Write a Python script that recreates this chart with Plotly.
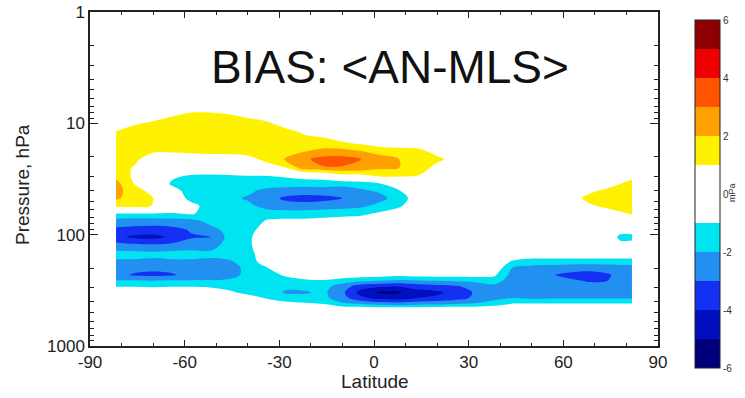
import numpy as np
import plotly.graph_objects as go

# ---------------- data ----------------
latitude = [-82, -76, -70, -64, -58, -52, -46, -40, -34, -28, -22, -16, -10, -4,
            2, 8, 14, 20, 26, 32, 38, 44, 50, 56, 62, 68, 74, 78, 82]
pressure_hpa = [1, 5, 8, 10, 12, 15, 18, 21, 25, 30, 35, 40, 47, 55, 65, 75, 90,
                105, 125, 150, 175, 200, 230, 260, 290, 330, 370, 420, 470, 600]

# bias (mPa) profiles, one per latitude, ordered like pressure_hpa
prof_m82 = [0, 0, 0, 0.2, 1.05, 1.5, 1.5, 1.5, 1.6, 1.9, 2.4, 2.5, 2.2, 1.3, -1.1, -2.4, -3.2, -3.7, -2.6, -1.6, -2.2, -2.6, -2.7, -1.9, -1.1, 0, 0, 0, 0, 0]
prof_m76 = [0, 0, 0, 0.85, 1.5, 1.5, 1.4, 1.3, 0.9, 0.8, 1.0, 1.3, 1.5, 1.4, -1.1, -2.5, -3.3, -4.2, -2.7, -1.6, -2.2, -2.7, -3.1, -1.9, -1.1, 0, 0, 0, 0, 0]
prof_m70 = [0, 0, 0.2, 1.2, 1.5, 1.5, 1.1, 0.3, 0.1, 0.1, 0.2, 0.7, 1.0, 0.95, -1.1, -2.5, -3.4, -4.3, -2.8, -1.7, -2.3, -2.8, -3.2, -2.0, -1.2, 0, 0, 0, 0, 0]
prof_m64 = [0, 0, 0.7, 1.5, 1.5, 1.5, 1.1, 0.2, 0, -0.8, -1.2, -0.5, 0, 0, -1.1, -2.4, -3.3, -3.8, -2.7, -1.6, -2.2, -2.7, -3.1, -1.9, -1.1, 0, 0, 0, 0, 0]
prof_m58 = [0, 0, 1.0, 1.5, 1.5, 1.5, 1.2, 0.2, 0, -1.2, -1.6, -1.6, -1.4, -0.6, -0.9, -2.3, -2.9, -3.1, -2.5, -1.6, -2.2, -2.6, -2.7, -1.9, -1.1, -0.1, 0, 0, 0, 0]
prof_m52 = [0, 0, 1.0, 1.5, 1.5, 1.5, 1.3, 0.3, 0, -1.3, -1.6, -1.6, -1.6, -1.5, -1.4, -1.7, -2.3, -3.05, -2.3, -1.8, -2.2, -2.6, -2.6, -1.9, -1.2, -0.2, 0, 0, 0, 0]
prof_m46 = [0, 0, 0.9, 1.5, 1.5, 1.5, 1.3, 0.4, 0, -1.2, -1.6, -1.7, -1.8, -1.7, -1.6, -1.6, -1.7, -1.7, -1.7, -1.7, -2.1, -2.5, -2.4, -1.8, -1.4, -0.8, 0, 0, 0, 0]
prof_m40 = [0, 0, 0.6, 1.4, 1.5, 1.5, 1.4, 0.6, 0.1, -1.1, -1.6, -1.8, -2.1, -1.8, -1.7, -1.8, -1.8, -1.3, -1.3, -1.6, -1.7, -1.7, -1.7, -1.7, -1.6, -1.3, -0.5, 0, 0, 0]
prof_m34 = [0, 0, 0.2, 1.2, 1.5, 1.5, 1.5, 1.3, 0.5, -1.1, -1.6, -2.2, -2.6, -2.3, -1.6, -0.9, 0, 0, 0, 0, -0.3, -1.1, -1.6, -1.7, -1.7, -1.5, -1.1, -0.3, 0, 0]
prof_m28 = [0, 0, 0, 0.5, 1.4, 1.5, 1.6, 2.1, 1.0, -0.9, -1.7, -2.3, -3.2, -2.6, -1.5, -0.8, 0, 0, 0, 0, 0, -0.1, -0.8, -1.6, -1.8, -2.1, -1.6, -0.6, 0, 0]
prof_m22 = [0, 0, 0, 0.3, 0.85, 1.5, 2.0, 2.8, 2.6, -0.6, -1.7, -2.4, -3.4, -2.6, -1.5, -0.8, 0, 0, 0, 0, 0, 0, -0.5, -1.2, -1.7, -2.1, -1.7, -0.8, 0, 0]
prof_m16 = [0, 0, 0, 0, 0.5, 1.5, 2.3, 3.4, 2.9, -0.5, -1.6, -2.4, -3.3, -2.5, -1.4, -0.7, 0, 0, 0, 0, 0, 0, -0.4, -1.1, -1.6, -1.8, -1.7, -1.0, 0, 0]
prof_m10 = [0, 0, 0, 0, 0.1, 1.1, 2.4, 3.4, 2.9, 0.4, -1.8, -2.3, -3.0, -2.4, -1.3, -0.6, 0, 0, 0, 0, 0, 0, -0.4, -1.5, -2.5, -2.8, -2.6, -1.8, 0, 0]
prof_m04 = [0, 0, 0, 0, 0, 0.8, 2.1, 3.0, 2.7, 0.5, -1.6, -2.1, -2.7, -2.2, -1.2, -0.5, 0, 0, 0, 0, 0, 0, -0.5, -1.8, -3.5, -4.4, -3.8, -2.0, 0, 0]
prof_p02 = [0, 0, 0, 0, 0, 0.5, 1.6, 2.5, 2.2, 1.0, -1.1, -1.8, -2.3, -1.7, -0.8, -0.2, 0, 0, 0, 0, 0, 0, -0.6, -2.0, -3.8, -5.2, -4.4, -2.3, 0, 0]
prof_p08 = [0, 0, 0, 0, 0, 0.4, 1.5, 2.0, 2.0, 1.0, 0, -1.0, -1.5, -1.2, -0.3, 0, 0, 0, 0, 0, 0, 0, -0.7, -2.2, -3.9, -5.1, -4.5, -2.5, 0, 0]
prof_p14 = [0, 0, 0, 0, 0, 0.3, 1.4, 1.8, 1.7, 0.9, 0, 0, -0.4, 0, 0, 0, 0, 0, 0, 0, 0, 0, -0.6, -2.1, -3.5, -4.4, -4.0, -2.3, 0, 0]
prof_p20 = [0, 0, 0, 0, 0, 0, 0.6, 1.3, 0.6, 0.2, 0, 0, 0, 0, 0, 0, 0, 0, 0, 0, 0, 0, -0.6, -2.0, -3.3, -4.2, -3.8, -2.2, 0, 0]
prof_p26 = [0, 0, 0, 0, 0, 0, 0.2, 0.5, 0.3, 0, 0, 0, 0, 0, 0, 0, 0, 0, 0, 0, 0, 0, -0.6, -1.9, -3.1, -3.6, -3.4, -2.0, 0, 0]
prof_p32 = [0, 0, 0, 0, 0, 0, 0, 0, 0, 0, 0, 0, 0, 0, 0, 0, 0, 0, 0, 0, 0, 0, -0.6, -1.8, -2.6, -2.9, -2.8, -1.9, 0, 0]
prof_p38 = [0, 0, 0, 0, 0, 0, 0, 0, 0, 0, 0, 0, 0, 0, 0, 0, 0, 0, 0, 0, 0, -0.2, -0.8, -1.6, -2.2, -2.5, -2.3, -1.5, 0, 0]
prof_p44 = [0, 0, 0, 0, 0, 0, 0, 0, 0, 0, 0, 0, 0, 0, 0, 0, 0, 0, 0, 0, -1.2, -2.1, -2.4, -2.5, -2.5, -2.4, -2.0, -0.9, 0, 0]
prof_p50 = [0, 0, 0, 0, 0, 0, 0, 0, 0, 0, 0, 0, 0, 0, 0, 0, 0, 0, 0, -0.2, -1.6, -2.3, -2.6, -2.7, -2.7, -2.6, -2.2, -0.9, 0, 0]
prof_p56 = [0, 0, 0, 0, 0, 0, 0, 0, 0, 0, 0, 0, 0, 0, 0, 0, 0, 0, 0, -0.2, -1.6, -2.4, -2.9, -2.7, -2.6, -2.5, -2.1, -0.9, 0, 0]
prof_p62 = [0, 0, 0, 0, 0, 0, 0, 0, 0, 0, 0, 0, 0.4, 0, 0, 0, 0, 0, 0, -0.2, -1.6, -2.5, -3.3, -2.8, -2.6, -2.5, -2.1, -0.9, 0, 0]
prof_p68 = [0, 0, 0, 0, 0, 0, 0, 0, 0, 0, 0, 0.7, 1.3, 0.8, 0, 0, 0, 0, 0, -0.2, -1.6, -2.6, -3.5, -3.1, -2.6, -2.5, -2.1, -0.9, 0, 0]
prof_p74 = [0, 0, 0, 0, 0, 0, 0, 0, 0, 0, 0.6, 1.2, 1.6, 1.3, 0.4, 0, 0, 0, 0, -0.2, -1.6, -2.5, -3.15, -3.0, -2.6, -2.5, -2.1, -0.9, 0, 0]
prof_p78 = [0, 0, 0, 0, 0, 0, 0, 0, 0, 0.3, 1.0, 1.5, 1.6, 1.5, 0.8, 0, -0.5, -1.3, -0.6, -0.2, -1.6, -2.4, -2.6, -2.6, -2.6, -2.5, -2.1, -0.9, 0, 0]
prof_p82 = [0, 0, 0, 0, 0, 0, 0, 0, 0, 0.7, 1.5, 1.6, 1.6, 1.5, 1.1, 0.2, -0.5, -1.3, -0.5, -0.2, -1.6, -2.4, -2.6, -2.6, -2.6, -2.5, -2.1, -0.9, 0, 0]

profiles = [prof_m82, prof_m76, prof_m70, prof_m64, prof_m58, prof_m52, prof_m46,
            prof_m40, prof_m34, prof_m28, prof_m22, prof_m16, prof_m10, prof_m04,
            prof_p02, prof_p08, prof_p14, prof_p20, prof_p26, prof_p32, prof_p38,
            prof_p44, prof_p50, prof_p56, prof_p62, prof_p68, prof_p74, prof_p78,
            prof_p82]
z = np.array(profiles, dtype=float).T  # rows = pressure, cols = latitude

level_edges = list(range(-6, 7))
band_colors = ["#00007C", "#0010BE", "#1430F2", "#2190F0", "#00E4F2",
               "#FFFFFF", "#FFFFFF",
               "#FFF200", "#FFA000", "#FF5500", "#EE0000", "#8E0000"]
cbar_ticks = [-6, -4, -2, 0, 2, 4, 6]
x_ticks = [-90, -60, -30, 0, 30, 60, 90]
y_ticks = [1, 10, 100, 1000]

# ---------------- figure ----------------
nb = len(band_colors)
colorscale = []
for k, c in enumerate(band_colors):
    colorscale.append([k / nb, c])
    colorscale.append([(k + 1) / nb, c])

FONT = "Arial, 'Liberation Sans', Helvetica, sans-serif"
W, H = 745, 398
L, R, T, B = 90, 87, 12, 52
pw, ph = W - L - R, H - T - B

def px_x(x):
    return (x - L) / pw

def px_y(y):
    return 1 - (y - T) / ph

fig = go.Figure()
fig.add_trace(go.Contour(
    x=latitude, y=pressure_hpa, z=z,
    zmin=level_edges[0], zmax=level_edges[-1],
    autocontour=False,
    contours=dict(start=level_edges[0], end=level_edges[-1], size=1,
                  coloring="fill", showlines=False),
    line=dict(width=0, smoothing=1.0),
    colorscale=colorscale,
    hoverinfo="skip",
    colorbar=dict(
        x=px_x(695), xanchor="left", xpad=0,
        y=px_y(194), yanchor="middle", ypad=0,
        thickness=25, thicknessmode="pixels",
        len=348, lenmode="pixels",
        outlinewidth=1, outlinecolor="#222",
        tickvals=cbar_ticks, ticktext=[str(v) for v in cbar_ticks],
        ticks="", tickfont=dict(family=FONT, size=10, color="#333"),
    ),
))

# hide anti-aliasing seams along the data perimeter
lat_lo, lat_hi = latitude[0], latitude[-1]
p_lo, p_hi = pressure_hpa[0], pressure_hpa[-1]
seams = [
    dict(x0=lat_lo, x1=lat_lo, y0=p_lo, y1=p_hi),
    dict(x0=lat_hi, x1=lat_hi, y0=p_lo, y1=p_hi),
    dict(x0=lat_lo, x1=lat_hi, y0=p_hi, y1=p_hi),
]
shapes = [dict(type="line", xref="x", yref="y", line=dict(color="white", width=1.6),
               layer="above", **s) for s in seams]

fig.update_layout(
    width=W, height=H,
    margin=dict(l=L, r=R, t=T, b=B, autoexpand=False),
    paper_bgcolor="white", plot_bgcolor="white",
    showlegend=False,
    font=dict(family=FONT, color="#222"),
    shapes=shapes,
    xaxis=dict(
        range=[-90, 90], tickvals=x_ticks, ticktext=[str(v) for v in x_ticks],
        ticks="inside", ticklen=6, tickwidth=1.2, tickcolor="#222",
        minor=dict(dtick=10, ticks="inside", ticklen=3, tickcolor="#222", tickwidth=1),
        showline=True, linecolor="#222", linewidth=1.5, mirror="ticks",
        showgrid=False, zeroline=False,
        tickfont=dict(family=FONT, size=17, color="#222"),
    ),
    yaxis=dict(
        type="log", range=[3, 0],
        tickvals=y_ticks, ticktext=[str(v) for v in y_ticks],
        ticks="inside", ticklen=8, tickwidth=1.2, tickcolor="#222",
        minor=dict(ticks="inside", ticklen=4, tickcolor="#222", tickwidth=1,
                   tickvals=[m * 10 ** d for d in range(3) for m in range(2, 10)]),
        showline=True, linecolor="#222", linewidth=1.5, mirror="ticks",
        showgrid=False, zeroline=False,
        tickfont=dict(family=FONT, size=17, color="#222"),
    ),
    annotations=[
        dict(text="BIAS: &lt;AN-MLS&gt;", x=px_x(390), y=px_y(67), xref="paper", yref="paper",
             showarrow=False, xanchor="center", yanchor="middle",
             font=dict(family=FONT, size=46, color="#111")),
        dict(text="Latitude", x=px_x(375), y=px_y(381), xref="paper", yref="paper",
             showarrow=False, xanchor="center", yanchor="middle",
             font=dict(family=FONT, size=19, color="#222")),
        dict(text="Pressure, hPa", x=px_x(22), y=px_y(185), xref="paper", yref="paper",
             showarrow=False, xanchor="center", yanchor="middle", textangle=-90,
             font=dict(family=FONT, size=19, color="#222")),
        dict(text="mPa", x=px_x(732), y=px_y(193), xref="paper", yref="paper",
             showarrow=False, xanchor="center", yanchor="middle", textangle=-90,
             font=dict(family=FONT, size=9, color="#333")),
    ],
)

fig.write_html("out.html")
